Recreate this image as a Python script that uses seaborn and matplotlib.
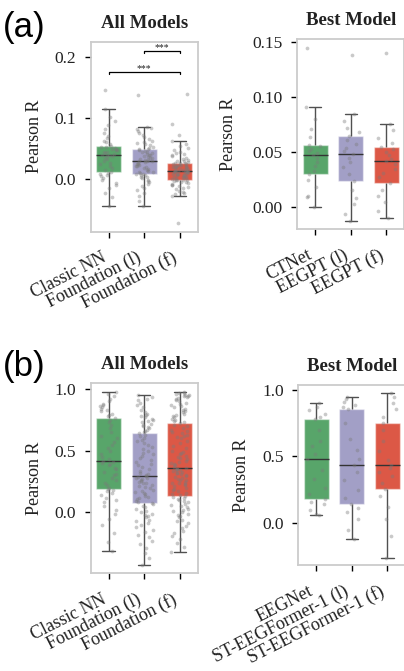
import numpy as np
import pandas as pd
import matplotlib
matplotlib.use("Agg")
import matplotlib.pyplot as plt
import seaborn as sns

# ---------------- data ----------------
cats_a_all = ["Classic NN", "Foundation (l)", "Foundation (f)"]
cats_a_best = ["CTNet", "EEGPT (l)", "EEGPT (f)"]
cats_b_all = ["Classic NN", "Foundation (l)", "Foundation (f)"]
cats_b_best = ["EEGNet", "ST-EEGFormer-1 (l)", "ST-EEGFormer-1 (f)"]

a_all_classic = [-0.044, -0.030, -0.022, -0.015, -0.010, -0.006, -0.002, 0.002, 0.005, 0.007,
                 0.009, 0.010, 0.0115, 0.015, 0.018, 0.021, 0.024, 0.027, 0.030, 0.033,
                 0.035, 0.037, 0.038, 0.039, 0.040, 0.041, 0.043, 0.044, 0.045, 0.047,
                 0.048, 0.049, 0.050, 0.051, 0.052, 0.053, 0.0546, 0.057, 0.060, 0.063,
                 0.067, 0.071, 0.076, 0.082, 0.089, 0.095, 0.102, 0.114, 0.145]
a_all_found_l = [-0.044, -0.035, -0.028, -0.022, -0.018, -0.014, -0.011, -0.008, -0.005, -0.003,
                 -0.001, 0.001, 0.003, 0.004, 0.006, 0.007, 0.008, 0.0087,
                 0.010, 0.011, 0.012, 0.014, 0.015, 0.016, 0.018, 0.019, 0.021, 0.022,
                 0.023, 0.024, 0.025, 0.027, 0.028, 0.029, 0.0295,
                 0.030, 0.031, 0.032, 0.033, 0.034, 0.035, 0.036, 0.038, 0.039, 0.040,
                 0.041, 0.042, 0.044, 0.045, 0.046, 0.047, 0.0485,
                 0.050, 0.051, 0.053, 0.055, 0.057, 0.059, 0.061, 0.063, 0.066, 0.069,
                 0.072, 0.075, 0.078, 0.082, 0.084, 0.0857, 0.137]
a_all_found_f = [-0.072, -0.027,
                 -0.025, -0.023, -0.021, -0.019, -0.017, -0.015, -0.013, -0.012, -0.010, -0.009,
                 -0.008, -0.006, -0.005, -0.004, -0.003, -0.002, -0.0015, -0.001, -0.0007,
                 0.000, 0.001, 0.002, 0.003, 0.003, 0.004, 0.005, 0.006, 0.006, 0.007,
                 0.008, 0.009, 0.009, 0.010, 0.011, 0.011, 0.012, 0.012, 0.0125, 0.013,
                 0.0135, 0.014, 0.015, 0.015, 0.016, 0.017, 0.017, 0.018, 0.019, 0.019,
                 0.020, 0.021, 0.021, 0.022, 0.023, 0.023, 0.024, 0.025, 0.0255, 0.026,
                 0.027, 0.028, 0.029, 0.030, 0.032, 0.033, 0.035, 0.037, 0.039, 0.041,
                 0.043, 0.045, 0.048, 0.051, 0.054, 0.058, 0.062, 0.072, 0.090, 0.139]

a_best_ctnet = [0.0005, 0.009, 0.010, 0.018, 0.025, 0.0299, 0.033, 0.037, 0.041, 0.045, 0.0474,
                0.049, 0.051, 0.053, 0.055, 0.0567, 0.064, 0.071, 0.080, 0.0906, 0.1443]
a_best_eegpt_l = [-0.0121, -0.006, 0.003, 0.008, 0.016, 0.0238, 0.030, 0.036, 0.041, 0.045, 0.0486,
                  0.051, 0.054, 0.057, 0.061, 0.0646, 0.068, 0.072, 0.078, 0.0848, 0.1377]
a_best_eegpt_f = [-0.010, -0.003, 0.005, 0.010, 0.016, 0.022, 0.027, 0.031, 0.035, 0.039, 0.0417,
                  0.044, 0.047, 0.050, 0.053, 0.0549, 0.058, 0.063, 0.070, 0.0757, 0.140]

b_all_classic = [-0.311, -0.24, -0.17, -0.10, -0.05, -0.01, 0.02, 0.05, 0.08, 0.10,
                 0.12, 0.14, 0.16, 0.17, 0.18, 0.189,
                 0.20, 0.22, 0.24, 0.26, 0.28, 0.30, 0.31, 0.33, 0.35, 0.36, 0.38, 0.39, 0.40, 0.41,
                 0.418,
                 0.43, 0.45, 0.47, 0.50, 0.52, 0.55, 0.57, 0.60, 0.62, 0.65, 0.68, 0.71, 0.73, 0.75,
                 0.767,
                 0.78, 0.79, 0.80, 0.82, 0.83, 0.84, 0.85, 0.86, 0.87, 0.88, 0.90, 0.92, 0.94, 0.96, 0.973]
b_all_found_l = [-0.424, -0.37, -0.33, -0.29, -0.26, -0.23, -0.20, -0.18, -0.16, -0.14,
                 -0.12, -0.10, -0.09, -0.07, -0.06, -0.04, -0.03, -0.02, -0.01, 0.00,
                 0.01, 0.03, 0.04, 0.055, 0.065, 0.075,
                 0.085, 0.095, 0.105, 0.115, 0.125, 0.135, 0.145, 0.155, 0.165, 0.175, 0.185, 0.195,
                 0.205, 0.215, 0.225, 0.235, 0.24, 0.25, 0.255, 0.26, 0.27, 0.275, 0.28, 0.285,
                 0.292,
                 0.30, 0.31, 0.32, 0.335, 0.35, 0.365, 0.38, 0.395, 0.41, 0.425, 0.44, 0.455,
                 0.47, 0.485, 0.50, 0.515, 0.53, 0.545, 0.56, 0.575, 0.59, 0.605, 0.62, 0.63,
                 0.640,
                 0.65, 0.66, 0.67, 0.68, 0.69, 0.70, 0.71, 0.72, 0.73, 0.74, 0.75, 0.76, 0.77,
                 0.78, 0.79, 0.80, 0.81, 0.83, 0.85, 0.87, 0.89, 0.91, 0.92, 0.935, 0.949]
b_all_found_f = [-0.319, -0.28, -0.25, -0.22, -0.19, -0.17, -0.15, -0.13, -0.11, -0.09,
                 -0.07, -0.06, -0.04, -0.03, -0.02, -0.01, 0.00, 0.01, 0.02, 0.03,
                 0.04, 0.05, 0.06, 0.07, 0.08, 0.09, 0.10, 0.11, 0.12, 0.125,
                 0.132,
                 0.14, 0.15, 0.16, 0.17, 0.18, 0.19, 0.20, 0.21, 0.22, 0.23, 0.235, 0.24, 0.25,
                 0.26, 0.265, 0.27, 0.28, 0.29, 0.295, 0.30, 0.31, 0.315, 0.32, 0.33, 0.335,
                 0.34, 0.345, 0.35, 0.355,
                 0.359,
                 0.37, 0.38, 0.39, 0.40, 0.41, 0.42, 0.43, 0.44, 0.45, 0.46, 0.47, 0.48, 0.49,
                 0.50, 0.52, 0.54, 0.56, 0.58, 0.60, 0.61, 0.62, 0.63, 0.64, 0.65, 0.66, 0.67,
                 0.68, 0.70, 0.71,
                 0.725,
                 0.73, 0.74, 0.75, 0.76, 0.77, 0.78, 0.79, 0.80, 0.81, 0.82, 0.83, 0.84, 0.85,
                 0.86, 0.87, 0.88, 0.89, 0.90, 0.91, 0.92, 0.93, 0.935, 0.94, 0.945, 0.95, 0.955,
                 0.96, 0.965, 0.97, 0.973]

b_best_eegnet = [0.058, 0.07, 0.10, 0.14, 0.16, 0.180, 0.22, 0.26, 0.33, 0.40, 0.479,
                 0.52, 0.58, 0.62, 0.70, 0.785, 0.80, 0.82, 0.85, 0.87, 0.900]
b_best_st_l = [-0.120, -0.05, 0.03, 0.08, 0.11, 0.141, 0.19, 0.25, 0.32, 0.38, 0.434,
               0.48, 0.55, 0.63, 0.75, 0.855, 0.87, 0.89, 0.91, 0.93, 0.947]
b_best_st_f = [-0.261, -0.10, 0.03, 0.12, 0.20, 0.258, 0.30, 0.35, 0.38, 0.41, 0.434,
               0.47, 0.54, 0.62, 0.70, 0.754, 0.80, 0.86, 0.90, 0.95, 0.975]

yticks_a_all = [0.0, 0.1, 0.2]
yticks_a_best = [0.00, 0.05, 0.10, 0.15]
yticks_b = [0.0, 0.5, 1.0]

# ---------------- style ----------------
COLORS = ["#58a56a", "#a29fc6", "#dc5846"]
SERIF = ["Liberation Serif", "DejaVu Serif"]
sns.set_theme(style="ticks")
plt.rcParams["font.family"] = "serif"
plt.rcParams["font.serif"] = SERIF
plt.rcParams["text.color"] = "#222222"
plt.rcParams["axes.labelcolor"] = "#222222"

fig = plt.figure(figsize=(4.04, 6.71), dpi=100)
W, H = 404.0, 671.0


def add_axes(x0, y0, x1, y1):
    return fig.add_axes([x0 / W, 1 - y1 / H, (x1 - x0) / W, (y1 - y0) / H])


def panel(ax, cats, values, title, ylim, yticks, fmt, label_x):
    df = pd.DataFrame({
        "model": np.repeat(cats, [len(v) for v in values]),
        "r": np.concatenate([np.asarray(v, float) for v in values]),
    })
    pal = dict(zip(cats, COLORS))
    sns.boxplot(data=df, x="model", y="r", hue="model", order=cats, hue_order=cats,
                palette=pal, saturation=1, width=0.7, showfliers=False, whis=1.5,
                linecolor="#505050", linewidth=1.0, legend=False, ax=ax,
                boxprops=dict(edgecolor=(1, 1, 1, 0.45), linewidth=1.0),
                medianprops=dict(color="#333333", linewidth=1.0))
    sns.stripplot(data=df, x="model", y="r", order=cats, color="#7a7a7a", alpha=0.4,
                  size=2.7, jitter=0.25, linewidth=0, ax=ax, zorder=3)
    ax.set_xlim(-0.5, 2.5)
    ax.set_ylim(*ylim)
    ax.set_yticks(yticks)
    ax.set_yticklabels([fmt.format(t) for t in yticks])
    ax.set_xlabel("")
    ax.set_ylabel("Pearson R", fontsize=13, family=SERIF)
    ax.yaxis.set_label_coords(label_x, 0.5)
    ax.set_title(title, fontsize=13.5, fontweight="bold", pad=10, family=SERIF)
    ax.tick_params(axis="both", direction="out", length=4.5, width=1.0, color="black",
                   labelcolor="#222222")
    ax.tick_params(axis="y", pad=6, labelsize=12.5)
    ax.tick_params(axis="x", pad=8, labelsize=13)
    for lab in ax.get_xticklabels() + ax.get_yticklabels():
        lab.set_family(SERIF)
    plt.setp(ax.get_xticklabels(), rotation=27, ha="right")
    for s in ax.spines.values():
        s.set_visible(True)
        s.set_color("#cccccc")
        s.set_linewidth(1.3)


np.random.seed(3)

ax1 = add_axes(90.7, 41.7, 197.7, 231.7)
panel(ax1, cats_a_all, [a_all_classic, a_all_found_l, a_all_found_f], "All Models",
      (-0.086, 0.2246), yticks_a_all, "{:.1f}", -0.446)
# significance brackets
ax1.plot([0, 0, 2, 2], [0.172, 0.1755, 0.1755, 0.172], color="black", lw=0.9)
ax1.text(1, 0.181, "***", ha="center", va="center", fontsize=7, family=SERIF)
ax1.plot([1, 1, 2, 2], [0.2057, 0.2092, 0.2092, 0.2057], color="black", lw=0.9)
ax1.text(1.5, 0.2148, "***", ha="center", va="center", fontsize=7, family=SERIF)

ax2 = add_axes(297.3, 39.3, 404.3, 229.0)
panel(ax2, cats_a_best, [a_best_ctnet, a_best_eegpt_l, a_best_eegpt_f], "Best Model",
      (-0.0197, 0.152), yticks_a_best, "{:.2f}", -0.564)

ax3 = add_axes(90.7, 382.7, 197.7, 573.3)
panel(ax3, cats_b_all, [b_all_classic, b_all_found_l, b_all_found_f], "All Models",
      (-0.494, 1.051), yticks_b, "{:.1f}", -0.446)

ax4 = add_axes(298.3, 385.0, 405.3, 565.0)
panel(ax4, cats_b_best, [b_best_eegnet, b_best_st_l, b_best_st_f], "Best Model",
      (-0.316, 1.0376), yticks_b, "{:.1f}", -0.451)

fig.text(3 / W, 1 - 37 / H, "(a)", fontsize=25, family=["Liberation Sans", "DejaVu Sans"],
         va="baseline", ha="left", color="black")
fig.text(3 / W, 1 - 376 / H, "(b)", fontsize=25, family=["Liberation Sans", "DejaVu Sans"],
         va="baseline", ha="left", color="black")

fig.savefig("out.png", dpi=100)
